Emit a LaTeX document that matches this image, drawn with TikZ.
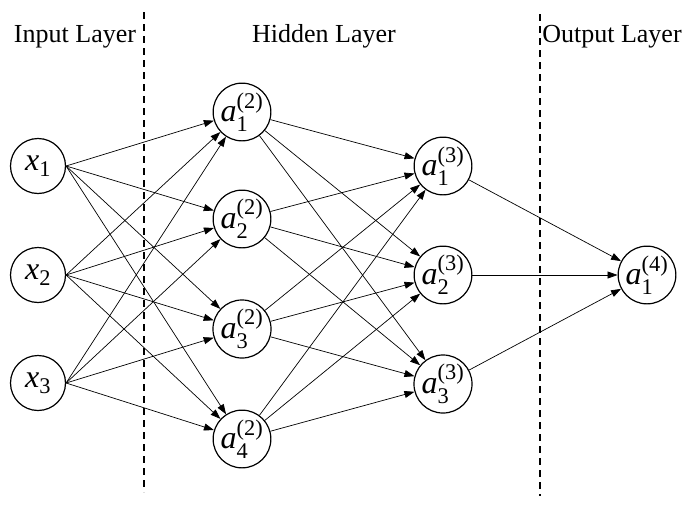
\documentclass[tikz,border=0pt]{standalone}
\usepackage{amsmath}
\usepackage{fontspec}
\setmainfont{Liberation Serif}
\usetikzlibrary{arrows.meta}

\begin{document}
\begin{tikzpicture}[x=1pt,y=-1pt,
    neuron/.style={circle,draw,line width=1.2pt,minimum size=55pt,inner sep=0pt,
        font=\fontsize{32}{32}\selectfont},
    layerlabel/.style={anchor=base,font=\fontsize{26}{26}\selectfont},
    divider/.style={line width=1.4pt,dash pattern=on 7pt off 5pt},
    link/.style={line width=0.7pt,-{Triangle[length=10pt,width=7pt]}}]
    \useasboundingbox (0,0) rectangle (685,506);

    % layer titles and dividers
    \node [layerlabel] (intitle) at (75,42) {Input Layer};
    \node [layerlabel] (hidtitle) at (324,42) {Hidden Layer};
    \node [layerlabel] (outtitle) at (612,42) {Output Layer};
    \coordinate (div1top) at (144,12);
    \coordinate (div1bot) at (144,492);
    \coordinate (div2top) at (540,14);
    \coordinate (div2bot) at (540,496);
    \draw [divider] (div1top) -- (div1bot);
    \draw [divider] (div2top) -- (div2bot);

    % input layer
    \foreach \i/\y in {1/166,2/275,3/383}
        \node [neuron] (x\i) at (38,\y) {\textit{x}$_{\text{\i}}$};

    % hidden layers
    \foreach \i/\y in {1/112,2/219,3/329,4/439}
        \node [neuron] (h\i) at (242,\y) {\textit{a}$^{\text{(2)}}_{\text{\i}}$};
    \foreach \i/\y in {1/166,2/275,3/384}
        \node [neuron] (g\i) at (443,\y) {\textit{a}$^{\text{(3)}}_{\text{\i}}$};

    % output layer
    \node [neuron] (o1) at (647,275) {\textit{a}$^{\text{(4)}}_{\text{1}}$};

    % connections
    \foreach \i in {1,2,3}
        \foreach \j in {1,2,3,4}
            \draw [link] (x\i.east) -- (h\j);
    \foreach \i in {1,2,3,4}
        \foreach \j in {1,2,3}
            \draw [link] (h\i) -- (g\j);
    \foreach \i in {1,2,3}
        \draw [link] (g\i) -- (o1);
\end{tikzpicture}
\end{document}
